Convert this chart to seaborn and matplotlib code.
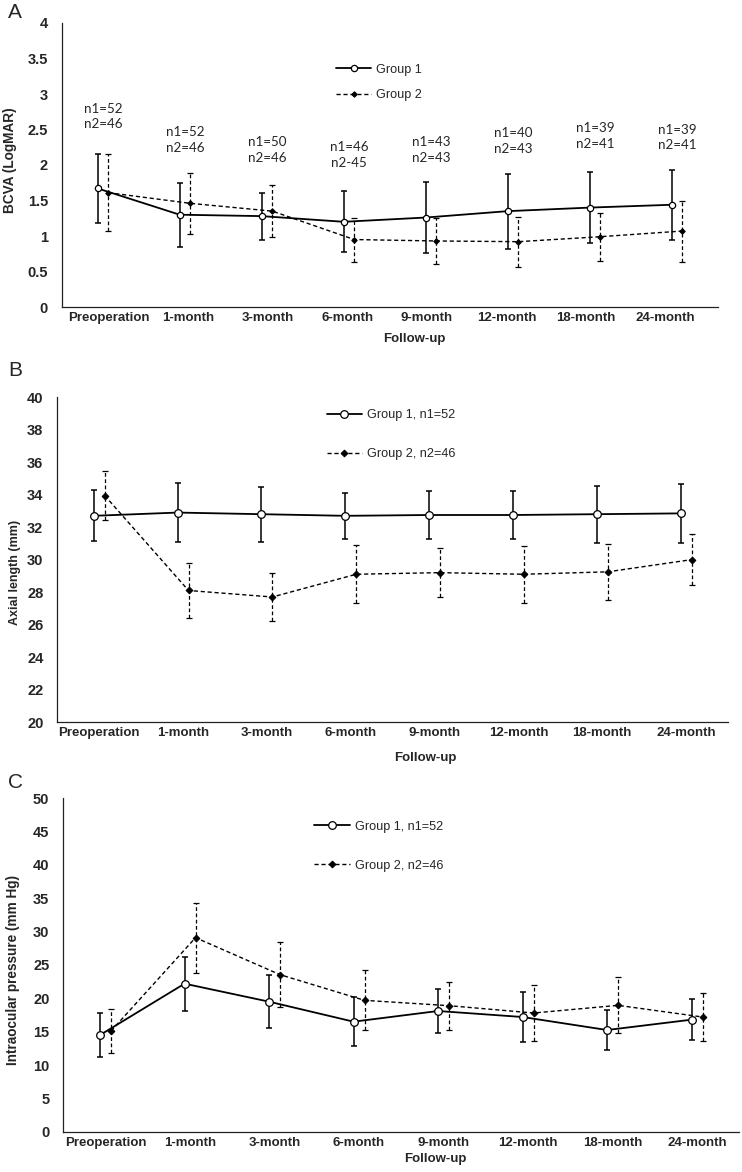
import numpy as np
import pandas as pd
import matplotlib
matplotlib.use("Agg")
import matplotlib.pyplot as plt
from matplotlib.ticker import FuncFormatter
import seaborn as sns

# follow-up visits (x categories)
visits = ["Preoperation", "1-month", "3-month", "6-month",
          "9-month", "12-month", "18-month", "24-month"]

# A: BCVA (LogMAR), mean and SD
bcva_g1 = [1.67, 1.30, 1.28, 1.20, 1.26, 1.35, 1.40, 1.44]
bcva_g1_sd = [0.49, 0.45, 0.33, 0.43, 0.50, 0.53, 0.50, 0.49]
bcva_g2 = [1.61, 1.46, 1.35, 0.95, 0.93, 0.92, 0.99, 1.07]
bcva_g2_sd = [0.54, 0.43, 0.37, 0.31, 0.32, 0.35, 0.34, 0.43]
bcva_n = ["n1=52\nn2=46", "n1=52\nn2=46", "n1=50\nn2=46", "n1=46\nn2-45",
          "n1=43\nn2=43", "n1=40\nn2=43", "n1=39\nn2=41", "n1=39\nn2=41"]

# B: axial length (mm)
axl_g1 = [32.70, 32.90, 32.80, 32.70, 32.75, 32.75, 32.80, 32.85]
axl_g1_sd = [1.57, 1.80, 1.70, 1.40, 1.50, 1.47, 1.75, 1.80]
axl_g2 = [33.95, 28.10, 27.70, 29.10, 29.20, 29.10, 29.25, 30.00]
axl_g2_sd = [1.52, 1.68, 1.50, 1.78, 1.50, 1.77, 1.72, 1.57]

# C: intraocular pressure (mm Hg)
iop_g1 = [14.5, 22.2, 19.5, 16.5, 18.1, 17.2, 15.25, 16.8]
iop_g1_sd = [3.3, 4.05, 4.0, 3.65, 3.3, 3.75, 3.0, 3.05]
iop_g2 = [15.1, 29.1, 23.55, 19.7, 18.9, 17.8, 18.95, 17.2]
iop_g2_sd = [3.3, 5.25, 4.9, 4.5, 3.6, 4.2, 4.2, 3.65]

sns.set_theme(style="white")
plt.rcParams["font.family"] = ["Liberation Sans", "DejaVu Sans"]

fig = plt.figure(figsize=(7.42, 11.72), dpi=100)
W, H = 742, 1172


def add_axes_px(left, top, right, bottom):
    return fig.add_axes([left / W, 1 - bottom / H, (right - left) / W, (bottom - top) / H])


def draw_panel(ax, g1, g1_sd, g2, g2_sd, ylim, ystep, ylabel, ms, label_pos=None):
    x = np.arange(len(visits))
    off = 0.065
    df1 = pd.DataFrame({"x": x - off, "y": g1})
    df2 = pd.DataFrame({"x": x + off, "y": g2})

    # error bars first (behind the markers)
    ax.errorbar(df1["x"], df1["y"], yerr=g1_sd, fmt="none", ecolor="black",
                elinewidth=1.1, capsize=2, capthick=1.1, zorder=2)
    eb = ax.errorbar(df2["x"], df2["y"], yerr=g2_sd, fmt="none", ecolor="black",
                     elinewidth=0.9, capsize=2, capthick=0.9, zorder=2)
    eb[2][0].set_linestyle((0, (3, 2)))

    sns.lineplot(data=df2, x="x", y="y", ax=ax, color="black", linewidth=1.0,
                 linestyle=(0, (3, 2)), marker="D", markersize=ms * 0.62,
                 markerfacecolor="black", markeredgecolor="black",
                 estimator=None, errorbar=None, sort=False, zorder=3)
    line2 = ax.lines[-1]
    sns.lineplot(data=df1, x="x", y="y", ax=ax, color="black", linewidth=1.3,
                 marker="o", markersize=ms, markerfacecolor="white",
                 markeredgecolor="black", markeredgewidth=0.9,
                 estimator=None, errorbar=None, sort=False, zorder=4)
    line1 = ax.lines[-1]

    ax.set_xlim(-0.5, len(visits) - 0.5)
    ax.set_ylim(*ylim)
    ax.set_yticks(np.arange(ylim[0], ylim[1] + ystep / 2, ystep))
    ax.yaxis.set_major_formatter(FuncFormatter(lambda v, p: f"{v:g}"))

    ax.set_xticks(np.arange(len(visits) + 1) - 0.5)
    ax.set_xticklabels([])
    ax.set_xticks(x if label_pos is None else label_pos, minor=True)
    ax.set_xticklabels(visits, minor=True, fontweight="bold", fontsize=9.5)
    ax.tick_params(axis="x", which="major", direction="in", length=3.5,
                   width=0.8, color="#222222")
    ax.tick_params(axis="x", which="minor", length=0, pad=3.5)
    ax.tick_params(axis="y", direction="out", length=3, width=0.8,
                   color="#222222", pad=7, labelsize=10.5)
    for t in ax.get_yticklabels():
        t.set_fontweight("bold")

    sns.despine(ax=ax)
    for s in ["left", "bottom"]:
        ax.spines[s].set_linewidth(0.9)
        ax.spines[s].set_color("#222222")

    ax.set_xlabel("Follow-up", fontweight="bold", fontsize=9.5)
    ax.set_ylabel(ylabel, fontweight="bold", va="center")
    return line1, line2


# ---- panel A ----
axA = add_axes_px(62, 23, 718, 307)
# category labels in panel A sit on a slightly narrower spacing than the categories
l1, l2 = draw_panel(axA, bcva_g1, bcva_g1_sd, bcva_g2, bcva_g2_sd,
                    (0, 4), 0.5, "BCVA (LogMAR)", 4.5,
                    label_pos=np.linspace(0.07, 6.86, len(visits)))
axA.yaxis.label.set_fontsize(9.8)
axA.yaxis.set_label_coords(-0.079, 0.518)
axA.xaxis.set_label_coords(0.537, -0.093)
n_label_y = [2.68, 2.35, 2.21, 2.14, 2.21, 2.34, 2.41, 2.39]
for i, lab in enumerate(bcva_n):
    axA.text(i, n_label_y[i], lab, ha="center", va="center", fontsize=9.6,
             family=["Lato", "DejaVu Sans"], linespacing=1.35)
axA.legend([l1, l2], ["Group 1", "Group 2"], loc="center left",
           bbox_to_anchor=(0.4177, 0.791), frameon=False, borderpad=0,
           borderaxespad=0, handlelength=2.8, handletextpad=0.4,
           labelspacing=1.05, fontsize=9.1)

# ---- panel B ----
axB = add_axes_px(57.3, 397.3, 728, 722)
l1, l2 = draw_panel(axB, axl_g1, axl_g1_sd, axl_g2, axl_g2_sd,
                    (20, 40), 2, "Axial length (mm)", 5.5)
axB.yaxis.label.set_fontsize(9.0)
axB.yaxis.set_label_coords(-0.063, 0.4615)
axB.xaxis.set_label_coords(0.549, -0.091)
axB.legend([l1, l2], ["Group 1, n1=52", "Group 2, n2=46"], loc="center left",
           bbox_to_anchor=(0.4017, 0.885), frameon=False, borderpad=0,
           borderaxespad=0, handlelength=2.8, handletextpad=0.4,
           labelspacing=2.15, fontsize=9.1)

# ---- panel C ----
axC = add_axes_px(63.3, 798.3, 739.3, 1131.7)
l1, l2 = draw_panel(axC, iop_g1, iop_g1_sd, iop_g2, iop_g2_sd,
                    (0, 50), 5, "Intraocular pressure (mm Hg)", 5.5)
axC.yaxis.label.set_fontsize(9.8)
axC.yaxis.set_label_coords(-0.074, 0.485)
axC.xaxis.set_label_coords(0.55, -0.0645)
axC.legend([l1, l2], ["Group 1, n1=52", "Group 2, n2=46"], loc="center left",
           bbox_to_anchor=(0.3714, 0.856), frameon=False, borderpad=0,
           borderaxespad=0, handlelength=2.8, handletextpad=0.4,
           labelspacing=2.15, fontsize=9.1)

# panel letters
for letter, base in [("A", 18), ("B", 376), ("C", 788)]:
    fig.text(8 / W, 1 - base / H, letter, fontsize=15, ha="left", va="baseline")

fig.savefig("out.png", dpi=100, facecolor="white")
